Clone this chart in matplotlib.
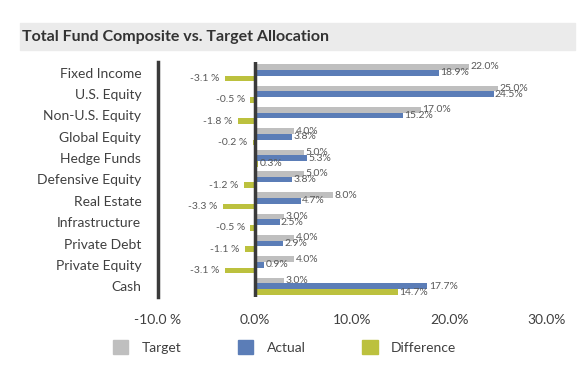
import matplotlib.pyplot as plt
from matplotlib.patches import Rectangle, Patch
import numpy as np

plt.rcParams['font.family'] = ['Lato', 'DejaVu Sans']

categories = ["Fixed Income", "U.S. Equity", "Non-U.S. Equity", "Global Equity",
              "Hedge Funds", "Defensive Equity", "Real Estate", "Infrastructure",
              "Private Debt", "Private Equity", "Cash"]
target = [22.0, 25.0, 17.0, 4.0, 5.0, 5.0, 8.0, 3.0, 4.0, 4.0, 3.0]
actual = [18.9, 24.5, 15.2, 3.8, 5.3, 3.8, 4.7, 2.5, 2.9, 0.9, 17.7]
difference = [-3.1, -0.5, -1.8, -0.2, 0.3, -1.2, -3.3, -0.5, -1.1, -3.1, 14.7]
xticks = [-10, 0, 10, 20, 30]
xticklabels = ["-10.0 %", "0.0%", "10.0%", "20.0%", "30.0%"]

c_target = "#BFBFBF"
c_actual = "#5B7DB7"
c_diff = "#BCC13E"
txt = "#404040"
lbl = "#595959"

W, H = 586, 381
fig = plt.figure(figsize=(W / 100, H / 100), dpi=100)

# title band
fig.patches.append(Rectangle((20 / W, 1 - 50 / H), 555 / W, 27 / H,
                             transform=fig.transFigure, color="#EBEBEB", zorder=0))
fig.text(22 / W, 1 - 37.5 / H, "Total Fund Composite vs. Target Allocation",
         fontsize=11.5, fontweight="bold", color="#333333", va="center", ha="left")

ax = fig.add_axes([158 / W, 1 - 297 / H, 389 / W, 235 / H])

y = np.arange(len(categories))
h = 0.266
ax.barh(y - h, target, height=h, color=c_target)
ax.barh(y, actual, height=h, color=c_actual)
ax.barh(y + h, difference, height=h, color=c_diff)

for i in range(len(categories)):
    ax.annotate(f"{target[i]:.1f}%", (target[i], y[i] - h), xytext=(1, 0),
                textcoords="offset points", va="center", ha="left", fontsize=7.5, color=lbl)
    ax.annotate(f"{actual[i]:.1f}%", (actual[i], y[i]), xytext=(1, 0),
                textcoords="offset points", va="center", ha="left", fontsize=7.5, color=lbl)
    d = difference[i]
    if d < 0:
        ax.annotate(f"{d:.1f} %", (d, y[i] + h), xytext=(-4, 0),
                    textcoords="offset points", va="center", ha="right", fontsize=7.5, color=lbl)
    else:
        ax.annotate(f"{d:.1f}%", (d, y[i] + h), xytext=(1, 0),
                    textcoords="offset points", va="center", ha="left", fontsize=7.5, color=lbl)

ax.set_xlim(-10, 30)
ax.set_ylim(len(categories) - 0.5, -0.5)
ax.set_xticks(xticks)
ax.set_xticklabels(xticklabels, fontsize=10, color=txt)
ax.set_yticks(y)
ax.set_yticklabels(categories, fontsize=10, color=txt)
ax.tick_params(length=0)
ax.tick_params(axis="y", pad=12)
ax.tick_params(axis="x", pad=12)
for s in ["top", "right", "bottom"]:
    ax.spines[s].set_visible(False)
ax.spines["left"].set_linewidth(2.5)
ax.spines["left"].set_color("#3A3A3A")
ax.axvline(0, color="#3A3A3A", lw=2.5, zorder=3)

handles = [Patch(color=c_target, label="Target"),
           Patch(color=c_actual, label="Actual"),
           Patch(color=c_diff, label="Difference")]
fig.legend(handles=handles, loc="center left", bbox_to_anchor=(113 / W, 1 - 347 / H),
           ncol=3, frameon=False, fontsize=10, handlelength=1.1, handleheight=1.1,
           handletextpad=0.95, columnspacing=4.1, borderpad=0, borderaxespad=0,
           labelcolor=txt)

fig.savefig("out.png", dpi=100)
